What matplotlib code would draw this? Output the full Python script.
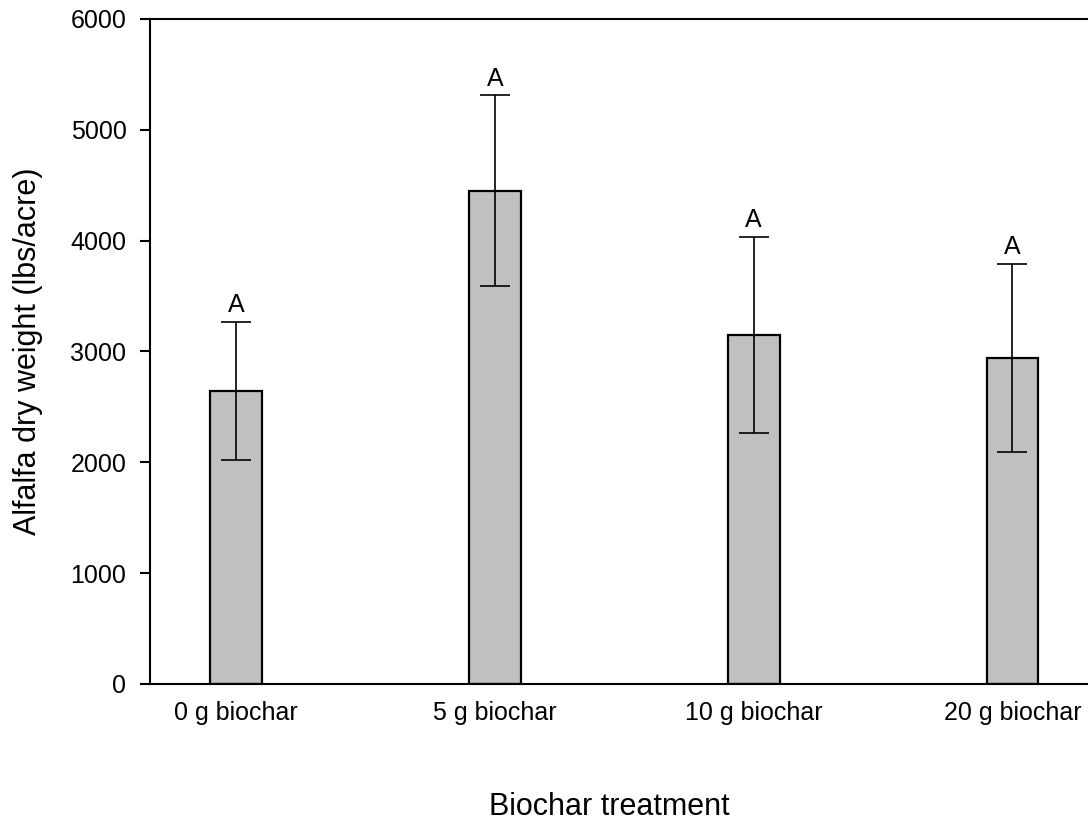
import matplotlib.pyplot as plt

plt.rcParams['font.family'] = ['Liberation Sans', 'DejaVu Sans']

treatments = ['0 g biochar', '5 g biochar', '10 g biochar', '20 g biochar']
dry_weight = [2645, 4450, 3150, 2940]
err = [625, 860, 885, 850]
letters = ['A', 'A', 'A', 'A']

fig = plt.figure(figsize=(10.88, 8.21), dpi=100)
ax = fig.add_axes([0.1379, 0.1669, 0.8719, 0.81])

x = list(range(len(treatments)))
ax.bar(x, dry_weight, width=0.2, color='#c0c0c0', edgecolor='black', linewidth=1.6, zorder=2)
ax.errorbar(x, dry_weight, yerr=err, fmt='none', ecolor='black', elinewidth=1.2,
            capsize=10.5, capthick=1.2, zorder=3)
# significance letters above the caps
for xi, v, e, lab in zip(x, dry_weight, err, letters):
    ax.annotate(lab, xy=(xi, v + e), xytext=(0, 7), textcoords='offset points',
                ha='center', va='baseline', fontsize=18)

ax.set_xlim(-0.333, 3.333)
ax.set_ylim(0, 6000)
ax.set_yticks(range(0, 6001, 1000))
ax.set_xticks(x)
ax.set_xticklabels(treatments)
ax.tick_params(axis='x', length=0, labelsize=18, pad=12)
ax.tick_params(axis='y', direction='out', length=7, width=1.5, labelsize=18, pad=10)
for s in ax.spines.values():
    s.set_linewidth(1.5)

ax.set_ylabel('Alfalfa dry weight (lbs/acre)', fontsize=22, labelpad=20)
ax.set_xlabel('Biochar treatment', fontsize=22)
ax.xaxis.set_label_coords(0.484, -0.163)

fig.savefig('out.png', dpi=100)
